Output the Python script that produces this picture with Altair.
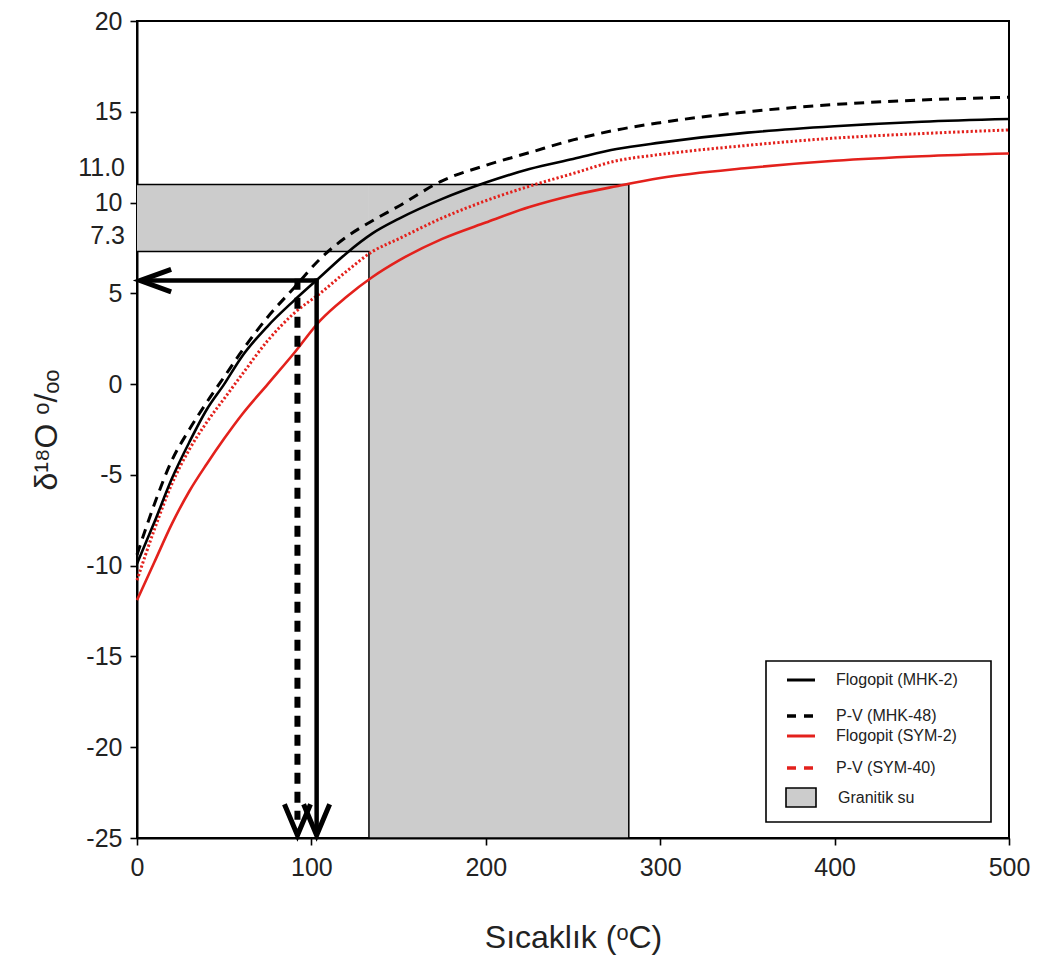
import altair as alt
import pandas as pd

# ---------------- data ----------------
temps = [0, 10, 20, 30, 40, 50, 60, 75, 90, 105, 120, 135, 150, 175, 200, 225, 250, 275, 300, 350, 400, 450, 500]
flog_mhk2 = [-9.9, -7.6, -5.2, -3.2, -1.4, 0.0, 1.5, 3.2, 4.6, 5.9, 7.2, 8.3, 9.1, 10.2, 11.1, 11.85, 12.4, 12.95, 13.3, 13.85, 14.2, 14.45, 14.6]
pv_mhk48 = [-9.4, -6.6, -4.2, -2.5, -1.0, 0.4, 1.8, 3.7, 5.3, 6.9, 8.1, 9.0, 9.8, 11.2, 12.05, 12.75, 13.45, 14.0, 14.4, 15.0, 15.4, 15.65, 15.8]
flog_sym2 = [-11.9, -9.8, -7.7, -5.9, -4.4, -3.0, -1.7, 0.0, 1.7, 3.5, 4.8, 5.9, 6.8, 8.0, 8.9, 9.75, 10.4, 10.9, 11.35, 11.9, 12.3, 12.55, 12.7]
pv_sym40 = [-10.8, -8.0, -5.5, -3.6, -2.1, -0.8, 0.5, 2.4, 3.9, 5.0, 6.2, 7.3, 8.0, 9.15, 10.1, 10.9, 11.6, 12.3, 12.65, 13.15, 13.55, 13.8, 14.0]

gran_x = [0, 133, 282]        # granitic water box edges (°C)
gran_y = [-25, 7.3, 11.0]     # bottom, lower, upper (‰)

arrow_v = 5.7                 # horizontal arrow level
arrow_T_solid = 103
arrow_T_dashed = 92
arrow_T_end = 104
y_bottom = -25

x_ticks = [0, 100, 200, 300, 400, 500]
y_ticks = [-25, -20, -15, -10, -5, 0, 5, 10, 15, 20]
extra_labels = ["11.0", "7.3"]
extra_values = [11.0, 7.3]

legend_labels = ["Flogopit (MHK-2)", "P-V (MHK-48)", "Flogopit (SYM-2)", "P-V (SYM-40)", "Granitik su"]

RED = "#e3211c"
FONT = "Liberation Sans"
NARROW = "Liberation Sans Narrow, Liberation Sans, Arial, sans-serif"

# ---------------- encodings ----------------
xscale = alt.Scale(domain=[0, 500], nice=False, zero=False)
yscale = alt.Scale(domain=[-25, 20], nice=False, zero=False)
xaxis = alt.Axis(values=x_ticks, title="Sıcaklık (ᵒC)", grid=False, labelFlush=False)
yaxis = alt.Axis(values=y_ticks, title="δ¹⁸O ᵒ/ₒₒ", grid=False, labelExpr="'' + datum.value")


def X(field):
    return alt.X(field, type="quantitative", scale=xscale, axis=xaxis)


def Y(field):
    return alt.Y(field, type="quantitative", scale=yscale, axis=yaxis)


# ---------------- granitic water box ----------------
rect_df = pd.DataFrame({
    "x1": [gran_x[0], gran_x[1]],
    "x2": [gran_x[1], gran_x[2]],
    "y1": [gran_y[1], gran_y[0]],
    "y2": [gran_y[2], gran_y[2]],
})
rects = alt.Chart(rect_df).mark_rect(fill="#cccccc", strokeWidth=0).encode(
    x=X("x1"), x2="x2", y=Y("y1"), y2="y2"
)

outline_df = pd.DataFrame({
    "x1": [gran_x[0], gran_x[2], gran_x[2], gran_x[1], gran_x[1], gran_x[0]],
    "y1": [gran_y[2], gran_y[2], gran_y[0], gran_y[0], gran_y[1], gran_y[1]],
    "o": list(range(6)),
})
outline = alt.Chart(outline_df).mark_line(color="black", strokeWidth=1.5).encode(
    x=X("x1"), y=Y("y1"), order="o:Q"
)

# ---------------- curves ----------------
curve_df = pd.DataFrame({"T": temps, "a": flog_mhk2, "b": pv_mhk48, "c": flog_sym2, "d": pv_sym40})


def curve(col, color, width, dash=None):
    kw = dict(color=color, strokeWidth=width, interpolate="monotone")
    if dash:
        kw["strokeDash"] = dash
    return alt.Chart(curve_df).mark_line(**kw).encode(x=X("T"), y=Y(col))


c_sym2 = curve("c", RED, 2.6)
c_sym40 = curve("d", RED, 3, [2.2, 2.2])
c_mhk2 = curve("a", "black", 2.6)
c_mhk48 = curve("b", "black", 3, [10, 7])

# ---------------- arrows ----------------
h_df = pd.DataFrame({"T": [2], "T2": [arrow_T_end], "v": [arrow_v]})
h_arrow = alt.Chart(h_df).mark_rule(color="black", strokeWidth=4.5).encode(
    x=X("T"), x2="T2", y=Y("v")
)
vs_df = pd.DataFrame({"T": [arrow_T_solid], "v": [arrow_v + 0.12], "v2": [y_bottom + 0.4]})
v_solid = alt.Chart(vs_df).mark_rule(color="black", strokeWidth=4.5).encode(
    x=X("T"), y=Y("v"), y2="v2"
)
vd_df = pd.DataFrame({"T": [arrow_T_dashed], "v": [arrow_v + 0.1], "v2": [y_bottom + 1.0]})
v_dashed = alt.Chart(vd_df).mark_rule(color="black", strokeWidth=6, strokeDash=[11, 8]).encode(
    x=X("T"), y=Y("v"), y2="v2"
)

left_head_df = pd.DataFrame({"T": [1.8], "v": [arrow_v]})
left_head = alt.Chart(left_head_df).mark_point(
    shape="M1,-0.36L0,0L1,0.36", size=3844, filled=False, stroke="black",
    strokeWidth=5, opacity=1, strokeJoin="miter"
).encode(x=X("T"), y=Y("v"))

down_head_df = pd.DataFrame({"T": [arrow_T_dashed, arrow_T_solid], "v": [y_bottom + 0.15, y_bottom + 0.15]})
down_heads = alt.Chart(down_head_df).mark_point(
    shape="M-0.42,-1L0,0L0.42,-1", size=3844, filled=False, stroke="black",
    strokeWidth=5, opacity=1, strokeJoin="miter"
).encode(x=X("T"), y=Y("v"))

# ---------------- extra y labels ----------------
extra_df = pd.DataFrame({"lab": extra_labels, "v": extra_values})
extra = alt.Chart(extra_df).mark_text(
    align="right", baseline="middle", dy=-16, fontSize=25, font=FONT, color="#222"
).encode(x=alt.value(-12), y=Y("v"), text="lab:N")

# ---------------- legend (drawn by hand) ----------------
one = pd.DataFrame({"k": [0]})
LX0, LX1 = 629, 854
LY0, LY1 = 640, 801
SX0, SX1 = 650, 678
TX = 699
rows_y = [659, 695, 715, 747, 777]

lg_box = alt.Chart(one).mark_rect(fill="white", stroke="black", strokeWidth=1.6).encode(
    x=alt.value(LX0), x2=alt.value(LX1), y=alt.value(LY0), y2=alt.value(LY1)
)


def lg_line(yv, color, width, dash=None):
    kw = dict(color=color, strokeWidth=width)
    if dash:
        kw["strokeDash"] = dash
    return alt.Chart(one).mark_rule(**kw).encode(
        x=alt.value(SX0), x2=alt.value(SX1), y=alt.value(yv)
    )


lg_l1 = lg_line(rows_y[0], "black", 3)
lg_l2 = lg_line(rows_y[1], "black", 3.5, [9, 8])
lg_l3 = lg_line(rows_y[2], RED, 3)
lg_l4 = lg_line(rows_y[3], RED, 3.5, [9, 8])
lg_sq = alt.Chart(one).mark_rect(fill="#cccccc", stroke="black", strokeWidth=1.6).encode(
    x=alt.value(SX0 - 1), x2=alt.value(SX1 + 1), y=alt.value(rows_y[4] - 10), y2=alt.value(rows_y[4] + 9)
)

lg_texts = []
for i, lab in enumerate(legend_labels):
    lg_texts.append(
        alt.Chart(pd.DataFrame({"lab": [lab]})).mark_text(
            align="left", baseline="middle", fontSize=16, font=NARROW, color="#222"
        ).encode(x=alt.value(TX + (2 if i == 4 else 0)), y=alt.value(rows_y[i]), text="lab:N")
    )

chart = alt.layer(
    rects, outline,
    c_sym2, c_sym40, c_mhk2, c_mhk48,
    h_arrow, v_solid, v_dashed, left_head, down_heads,
    extra,
    lg_box, lg_l1, lg_l2, lg_l3, lg_l4, lg_sq, *lg_texts,
).properties(
    width=872, height=817,
    autosize=alt.AutoSizeParams(type="none"),
    padding={"left": 129, "top": 13, "right": 23, "bottom": 125},
).configure_view(
    stroke="black", strokeWidth=2
).configure_axis(
    domainColor="black", domainWidth=2, tickColor="black", tickWidth=1.6, tickSize=7,
    labelFont=FONT, labelFontSize=25, labelColor="#222", labelPadding=8,
    titleFont=FONT, titleFontWeight="normal", titleColor="#222",
).configure_axisX(
    titleFontSize=32, titlePadding=42, labelPadding=10,
).configure_axisY(
    titleFontSize=32, titlePadding=22,
)

chart.save("out.html", embed_options={"renderer": "svg", "actions": False})
